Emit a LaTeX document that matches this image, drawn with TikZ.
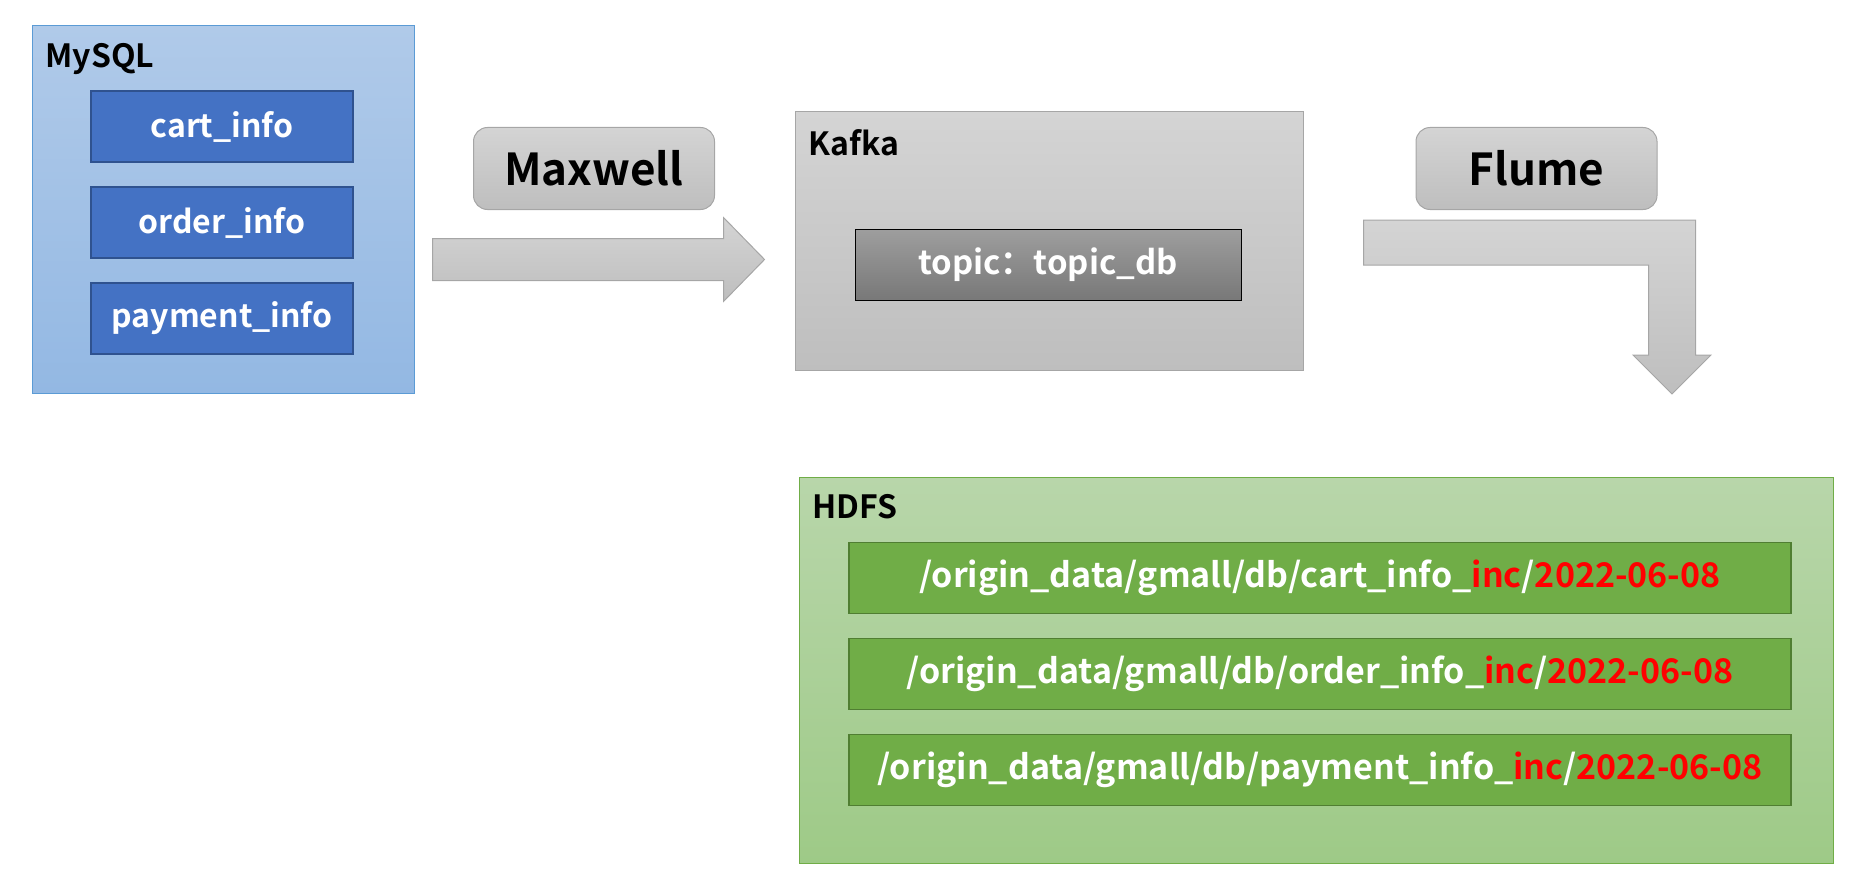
\documentclass[tikz,border=0pt]{standalone}
\usepackage{fontspec}
\setmainfont{Noto Sans CJK SC}[BoldFont={Noto Sans CJK SC Bold}]
\usetikzlibrary{positioning, calc}
\definecolor{mysqltop}{RGB}{176,202,233}
\definecolor{mysqlbot}{RGB}{147,184,227}
\definecolor{mysqledge}{RGB}{91,155,213}
\definecolor{tblfill}{RGB}{68,114,196}
\definecolor{tbledge}{RGB}{47,82,143}
\definecolor{graytop}{RGB}{212,212,212}
\definecolor{graybot}{RGB}{190,190,190}
\definecolor{grayedge}{RGB}{166,166,166}
\definecolor{topictop}{RGB}{158,158,158}
\definecolor{topicbot}{RGB}{120,120,120}
\definecolor{hdfstop}{RGB}{184,214,170}
\definecolor{hdfsbot}{RGB}{158,202,135}
\definecolor{hdfsedge}{RGB}{112,173,71}
\definecolor{pathfill}{RGB}{112,173,71}
\definecolor{pathedge}{RGB}{80,126,50}
\tikzstyle{container} = [rectangle, draw, line width=1pt, inner sep=0pt]
\tikzstyle{title} = [anchor=north west, inner sep=0pt, font=\fontsize{32}{38}\selectfont\bfseries, text=black]
\tikzstyle{table} = [rectangle, draw=tbledge, line width=1.5pt, fill=tblfill, text=white, minimum width=262pt, minimum height=71pt, font=\fontsize{32}{38}\selectfont\bfseries]
\tikzstyle{tool} = [rectangle, rounded corners=14pt, draw=grayedge, line width=1pt, top color=graytop, bottom color=graybot, minimum width=241pt, minimum height=82pt, font=\fontsize{44}{52}\selectfont\bfseries]
\tikzstyle{topic} = [rectangle, draw=black, line width=1pt, top color=topictop, bottom color=topicbot, text=white, minimum width=386pt, minimum height=71pt, font=\fontsize{33}{40}\selectfont\bfseries]
\tikzstyle{hpath} = [rectangle, draw=pathedge, line width=1.5pt, fill=pathfill, text=white, minimum width=942pt, minimum height=71pt, font=\fontsize{34}{40}\selectfont\bfseries]
\tikzstyle{flow} = [draw=grayedge, line width=1pt, top color=graytop, bottom color=graybot]
\newcommand{\inc}[1]{\textcolor{red}{#1}}

\begin{document}
\begin{tikzpicture}[x=1pt, y=1pt]
	\useasboundingbox (0,0) rectangle (1857,-888);

	% MySQL
	\node (mysql) [container, draw=mysqledge, top color=mysqltop, bottom color=mysqlbot, minimum width=382pt, minimum height=367pt] at (223,-209.5) {};
	\node (mysqltitle) [title] at ($(mysql.north west)+(14,-18)$) {MySQL};
	\node (cart) [table] at (222,-126.5) {cart\_info};
	\node (order) [table, below=23.5pt of cart] {order\_info};
	\node (payment) [table, below=23.5pt of order] {payment\_info};

	% Maxwell
	\node (maxwell) [tool] at (594,-168.5) {Maxwell};

	% Kafka
	\node (kafka) [container, draw=grayedge, top color=graytop, bottom color=graybot, minimum width=508pt, minimum height=258pt] at (1049,-241) {};
	\node (kafkatitle) [title] at ($(kafka.north west)+(14,-18)$) {Kafka};
	\node (topicdb) [topic] at (1048,-264.5) {topic：topic\_db};

	% Flume
	\node (flume) [tool] at (1536.5,-168.5) {Flume};

	% HDFS
	\node (hdfs) [container, draw=hdfsedge, top color=hdfstop, bottom color=hdfsbot, minimum width=1034pt, minimum height=386pt] at (1316,-670) {};
	\node (hdfstitle) [title] at ($(hdfs.north west)+(14,-18)$) {HDFS};
	\node (cartinc) [hpath] at (1320,-578) {/origin\_data/gmall/db/cart\_info\_\inc{inc}/\inc{2022-06-08}};
	\node (orderinc) [hpath, below=23.5pt of cartinc] {/origin\_data/gmall/db/order\_info\_\inc{inc}/\inc{2022-06-08}};
	\node (paymentinc) [hpath, below=23.5pt of orderinc] {/origin\_data/gmall/db/payment\_info\_\inc{inc}/\inc{2022-06-08}};

	% Arrows
	\coordinate (mxin) at ($(mysql.east |- mysql.center)+(18,-50)$);
	\coordinate (mxout) at ($(kafka.west |- mxin)+(-30,0)$);
	\draw[flow] ($(mxin)+(0,21)$) -- ($(mxout)+(-41,21)$) -- ($(mxout)+(-41,42)$) -- (mxout)
		-- ($(mxout)+(-41,-42)$) -- ($(mxout)+(-41,-21)$) -- ($(mxin)+(0,-21)$) -- cycle;

	\coordinate (flin) at ($(kafka.east)+(60,-1.5)$);
	\coordinate (flout) at (1672,-394);
	\draw[flow] ($(flin)+(0,22.5)$) -- ($(flout |- flin)+(23.5,22.5)$) -- ($(flout)+(23.5,39)$) -- ($(flout)+(39,39)$) -- (flout)
		-- ($(flout)+(-39,39)$) -- ($(flout)+(-23.5,39)$) -- ($(flout |- flin)+(-23.5,-22.5)$) -- ($(flin)+(0,-22.5)$) -- cycle;

\end{tikzpicture}
\end{document}
